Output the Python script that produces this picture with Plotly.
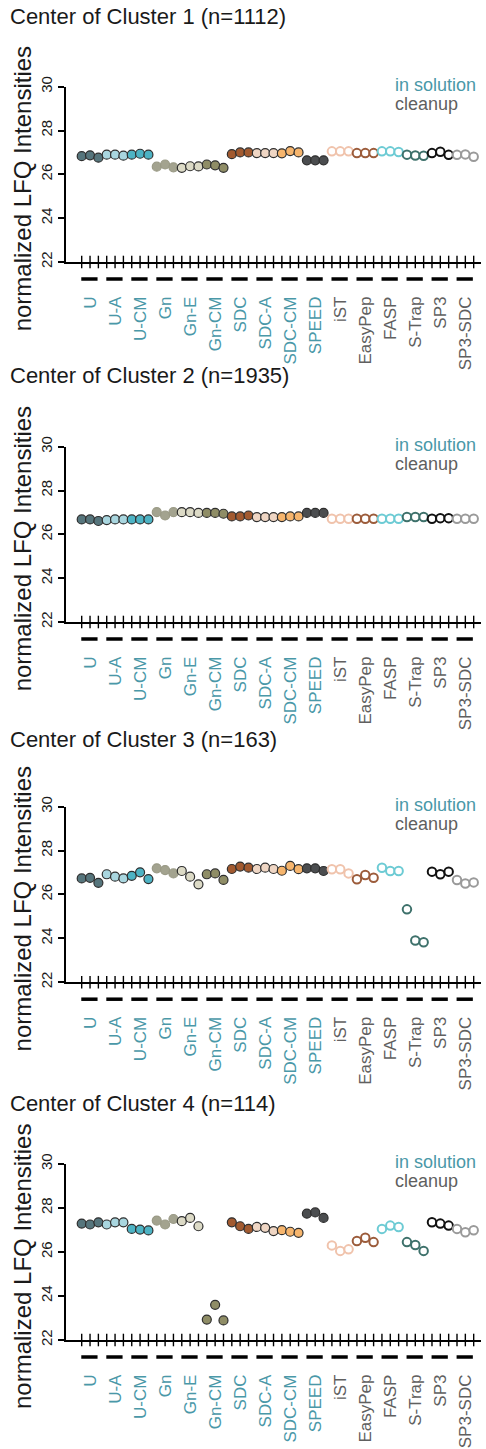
import plotly.graph_objects as go

# ---------------- data ----------------
methods = ["U", "U-A", "U-CM", "Gn", "Gn-E", "Gn-CM", "SDC", "SDC-A", "SDC-CM", "SPEED",
           "iST", "EasyPep", "FASP", "S-Trap", "SP3", "SP3-SDC"]
in_solution = ["U", "U-A", "U-CM", "Gn", "Gn-E", "Gn-CM", "SDC", "SDC-A", "SDC-CM", "SPEED"]

titles = ["Center of Cluster 1 (n=1112)", "Center of Cluster 2 (n=1935)",
          "Center of Cluster 3 (n=163)", "Center of Cluster 4 (n=114)"]

cluster1 = [26.83, 26.87, 26.76, 26.90, 26.90, 26.85, 26.90, 26.94, 26.90,
            26.35, 26.45, 26.32, 26.30, 26.37, 26.36, 26.45, 26.41, 26.30,
            26.92, 27.00, 27.00, 26.97, 26.97, 26.97, 26.96, 27.06, 27.00,
            26.64, 26.64, 26.64, 27.05, 27.05, 27.05, 26.97, 26.97, 26.97,
            27.05, 27.05, 27.02, 26.90, 26.86, 26.85, 26.97, 27.03, 26.89,
            26.89, 26.91, 26.80]
cluster2 = [26.68, 26.68, 26.61, 26.65, 26.68, 26.68, 26.68, 26.68, 26.68,
            27.01, 26.86, 27.01, 27.01, 27.01, 26.98, 26.98, 26.98, 26.94,
            26.82, 26.82, 26.86, 26.79, 26.79, 26.79, 26.79, 26.82, 26.82,
            26.98, 26.98, 26.98, 26.71, 26.71, 26.71, 26.71, 26.71, 26.71,
            26.71, 26.71, 26.71, 26.79, 26.79, 26.79, 26.71, 26.74, 26.74,
            26.71, 26.71, 26.71]
cluster3 = [26.73, 26.76, 26.53, 26.92, 26.81, 26.73, 26.85, 27.01, 26.70,
            27.19, 27.11, 26.96, 27.07, 26.81, 26.46, 26.92, 26.96, 26.66,
            27.16, 27.27, 27.22, 27.16, 27.22, 27.16, 27.08, 27.30, 27.15,
            27.19, 27.19, 27.07, 27.15, 27.15, 26.96, 26.69, 26.89, 26.76,
            27.22, 27.07, 27.07, 25.32, 23.90, 23.82, 27.04, 26.92, 27.04,
            26.66, 26.50, 26.55]
cluster4 = [27.29, 27.25, 27.35, 27.25, 27.35, 27.35, 27.05, 27.02, 26.98,
            27.43, 27.25, 27.50, 27.40, 27.55, 27.17, 22.93, 23.60, 22.89,
            27.35, 27.17, 27.05, 27.14, 27.10, 26.95, 26.99, 26.92, 26.87,
            27.74, 27.80, 27.55, 26.30, 26.05, 26.12, 26.50, 26.65, 26.45,
            27.05, 27.20, 27.14, 26.45, 26.32, 26.05, 27.35, 27.29, 27.20,
            27.05, 26.90, 26.99]
clusters = [cluster1, cluster2, cluster3, cluster4]

method_colors = ["#56757c", "#a9d6df", "#4db3c4", "#a3a38f", "#dcdac6", "#8f8d66",
                 "#a25a30", "#efd6c4", "#f6b56d", "#4b4d4f",
                 "#f0c3ac", "#9c5c3b", "#6dcbd4", "#3e716b", "#111111", "#9a9a9a"]

y_ticks = [22, 24, 26, 28, 30]

# ---------------- styling / layout constants ----------------
W, H = 486, 1449
FONT = "Liberation Sans, Arial, Helvetica, sans-serif"
TEAL = "#4a98a8"
GREY = "#606060"
x0_px, dx_px = 81.7, 8.34
x_left_px, x_right_px = 66, 481
x_range = [(x_left_px - x0_px) / dx_px, (x_right_px - x0_px) / dx_px]
panels_px = [(86.7, 262.0), (446.7, 622.0), (806.7, 982.2), (1164.0, 1340.0)]
title_px = [16, 376, 740, 1103]

fig = go.Figure()
layout = dict(width=W, height=H, autosize=False, margin=dict(l=0, r=0, t=0, b=0, pad=0),
              paper_bgcolor="white", plot_bgcolor="white", showlegend=False,
              font=dict(family=FONT, color="#1a1a1a"))
shapes, annotations = [], []

n_groups = len(methods)
tick_positions = list(range(3 * n_groups))
label_positions = [3 * g + 1 for g in range(n_groups)]
label_text = [
    f"<span style='color:{TEAL if m in in_solution else GREY}'>{m}</span>" for m in methods
]

for k, (vals, (top, bot)) in enumerate(zip(clusters, panels_px)):
    sfx = "" if k == 0 else str(k + 1)
    xa, ya = "x" + sfx, "y" + sfx
    ph = bot - top
    # crossing tick marks on the x axis
    fig.add_trace(go.Scatter(
        x=tick_positions, y=[y_ticks[0]] * len(tick_positions), xaxis=xa, yaxis=ya,
        mode="markers", cliponaxis=False, hoverinfo="skip",
        marker=dict(symbol="line-ns", size=9, line=dict(width=1.4, color="black"))))
    for g, m in enumerate(methods):
        xs = [3 * g, 3 * g + 1, 3 * g + 2]
        ys = vals[3 * g:3 * g + 3]
        col = method_colors[g]
        if m in in_solution:
            edge = "#9a9a86" if m == "Gn" else "#2e2e2e"
            mk = dict(symbol="circle", size=9, color=col, line=dict(width=1.2, color=edge))
        else:
            mk = dict(symbol="circle", size=8.5, color="white", line=dict(width=2.0, color=col))
        fig.add_trace(go.Scatter(x=xs, y=ys, xaxis=xa, yaxis=ya, mode="markers",
                                 cliponaxis=False, marker=mk, name=m))
        shapes.append(dict(type="line", xref=xa, yref=ya + " domain",
                           x0=3 * g - 0.05, x1=3 * g + 1.9, y0=-17 / ph, y1=-17 / ph,
                           line=dict(color="black", width=3.5)))

    layout["xaxis" + sfx] = dict(
        domain=[x_left_px / W, x_right_px / W], range=x_range, anchor=ya, automargin=False,
        showline=True, linecolor="black", linewidth=1.5, showgrid=False, zeroline=False,
        ticks="", tickmode="array", tickvals=label_positions, ticktext=label_text,
        tickangle=-90, tickfont=dict(size=17, family=FONT), ticklabelstandoff=26)
    layout["yaxis" + sfx] = dict(
        domain=[1 - bot / H, 1 - top / H], range=[22, 30], anchor=xa, automargin=False,
        showline=True, linecolor="black", linewidth=1.5, showgrid=False, zeroline=False,
        ticks="outside", ticklen=6, tickwidth=1.5, tickcolor="black",
        tickmode="array", tickvals=y_ticks, tickangle=-90,
        tickfont=dict(size=15, family=FONT, color="#1a1a1a"))

    annotations.append(dict(text=titles[k], xref="paper", yref="paper",
                            x=8 / W, y=1 - title_px[k] / H, xanchor="left", yanchor="middle",
                            showarrow=False, font=dict(size=22, family=FONT, color="#1a1a1a")))
    annotations.append(dict(text="normalized LFQ Intensities", xref="paper", yref="paper",
                            x=22 / W, y=1 - ((top + bot) / 2 + 15) / H, textangle=-90,
                            xanchor="center", yanchor="middle", showarrow=False,
                            font=dict(size=24, family=FONT, color="#1a1a1a")))
    annotations.append(dict(text="in solution", xref="paper", yref="paper",
                            x=393 / W, y=1 - (top - 2) / H, xanchor="left", yanchor="middle",
                            showarrow=False, font=dict(size=18, family=FONT, color=TEAL)))
    annotations.append(dict(text="cleanup", xref="paper", yref="paper",
                            x=393 / W, y=1 - (top + 17) / H, xanchor="left", yanchor="middle",
                            showarrow=False, font=dict(size=18, family=FONT, color=GREY)))

layout["shapes"] = shapes
layout["annotations"] = annotations
fig.update_layout(**layout)
fig.write_html("out.html")
